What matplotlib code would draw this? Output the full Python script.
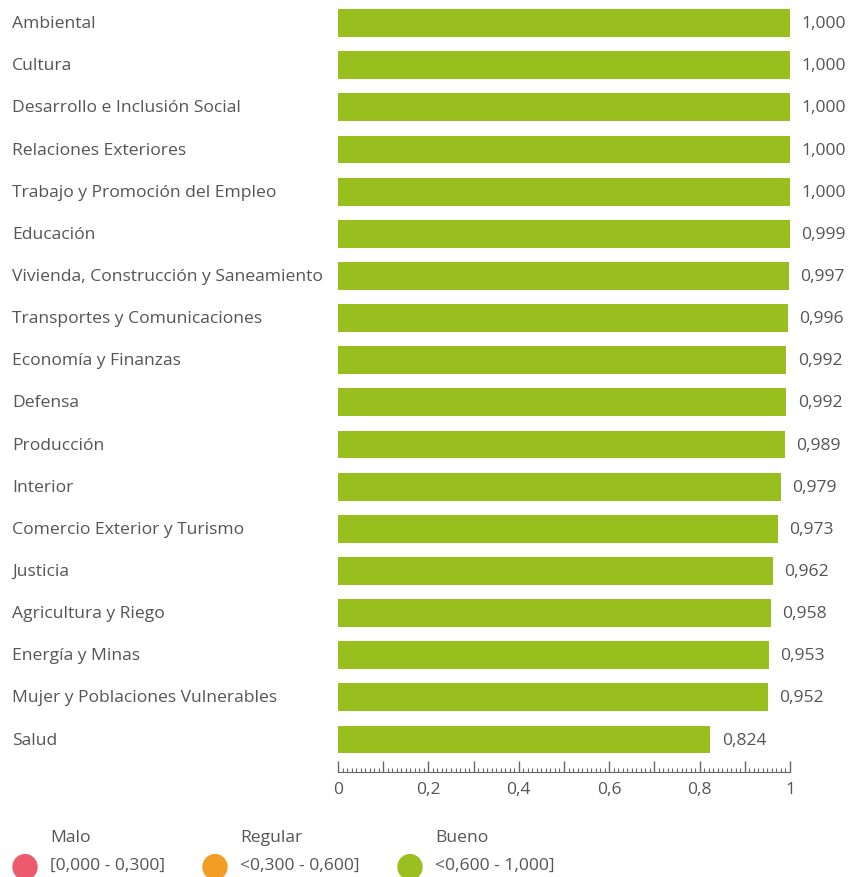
import numpy as np
import matplotlib.pyplot as plt
from matplotlib.transforms import blended_transform_factory
from matplotlib.ticker import MultipleLocator

categorias = ["Ambiental", "Cultura", "Desarrollo e Inclusión Social", "Relaciones Exteriores",
              "Trabajo y Promoción del Empleo", "Educación", "Vivienda, Construcción y Saneamiento",
              "Transportes y Comunicaciones", "Economía y Finanzas", "Defensa", "Producción",
              "Interior", "Comercio Exterior y Turismo", "Justicia", "Agricultura y Riego",
              "Energía y Minas", "Mujer y Poblaciones Vulnerables", "Salud"]
valores = [1.000, 1.000, 1.000, 1.000, 1.000, 0.999, 0.997, 0.996, 0.992, 0.992, 0.989,
           0.979, 0.973, 0.962, 0.958, 0.953, 0.952, 0.824]
ticks_x = [0, 0.2, 0.4, 0.6, 0.8, 1]
leyenda_titulos = ["Malo", "Regular", "Bueno"]
leyenda_rangos = ["[0,000 - 0,300]", "<0,300 - 0,600]", "<0,600 - 1,000]"]
leyenda_colores = ["#EC5A6E", "#F49D25", "#9ABF1F"]

plt.rcParams['font.family'] = ['Open Sans', 'DejaVu Sans']
gris = "#555555"
fs = 12.6

W, H = 852, 878
fig = plt.figure(figsize=(W / 100, H / 100), dpi=100)
ax = fig.add_axes([338 / W, 1 - 773 / H, (790 - 338) / W, (773 - 3) / H])

y = np.arange(len(categorias))
ax.barh(y, valores, height=0.66, color="#99BF1E")
ax.set_ylim(17.77, -0.5)
ax.set_xlim(0, 1)

for s in ["top", "right", "left"]:
    ax.spines[s].set_visible(False)
ax.spines["bottom"].set_color("#666666")
ax.set_yticks([])
# major ticks every 0.1, minor every 0.01, labels every 0.2
ax.xaxis.set_major_locator(MultipleLocator(0.1))
ax.xaxis.set_minor_locator(MultipleLocator(0.01))
ax.set_xticklabels([])
ax.tick_params(axis="x", which="major", direction="in", length=8, width=1, color="#666666")
ax.tick_params(axis="x", which="minor", direction="in", length=3, width=0.8, color="#666666")
for t in ticks_x:
    ax.text(t, -0.012, f"{t:g}".replace(".", ","), transform=ax.get_xaxis_transform(),
            ha="center", va="top", fontsize=fs, color=gris)

trans = blended_transform_factory(fig.transFigure, ax.transData)
for i, (c, v) in enumerate(zip(categorias, valores)):
    ax.text(12 / W, i, c, transform=trans, ha="left", va="center", fontsize=fs, color=gris)
    ax.text(v + 0.025, i, f"{v:.3f}".replace(".", ","), ha="left", va="center",
            fontsize=fs, color=gris)

xs = [25, 215, 410]
for x0, t, r, col in zip(xs, leyenda_titulos, leyenda_rangos, leyenda_colores):
    fig.text((x0 + 25) / W, 1 - 838 / H, t, ha="left", va="center", fontsize=fs, color=gris)
    fig.text((x0 + 25) / W, 1 - 866 / H, r, ha="left", va="center", fontsize=fs, color=gris)
    fig.patches.append(plt.Circle((x0 / W, 1 - 868 / H), 12 / W, transform=fig.transFigure,
                                  color=col))

fig.savefig("out.png", dpi=100)
